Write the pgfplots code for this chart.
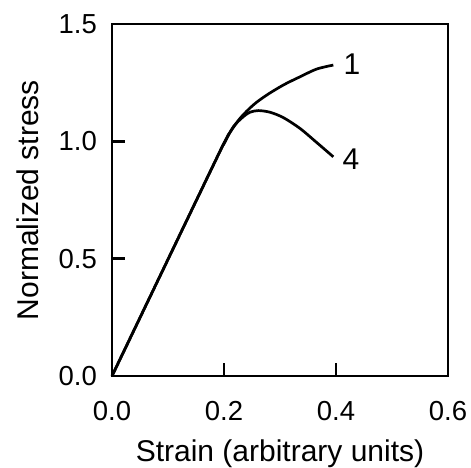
\documentclass[border=0pt]{standalone}
\usepackage{pgfplots}
\pgfplotsset{compat=1.18}
\usepackage{fontspec}
\setmainfont{Liberation Sans}
\pgfkeys{/pgf/number format/.cd, fixed, fixed zerofill, precision=1, assume math mode=true}
\begin{document}
\begin{tikzpicture}
\begin{axis}[
  name=ax,
  scale only axis,
  width=336pt, height=352pt,
  xmin=0, xmax=0.6, ymin=0, ymax=1.5,
  axis line style={line width=2.3pt},
  xtick={0,0.2,0.4,0.6}, ytick={0,0.5,1.0,1.5},
  tick pos=left,
  tick align=inside,
  tickwidth=13pt,
  tick style={draw=black, line width=2.3pt},
  ticklabel style={font=\fontsize{27.5}{32}\selectfont},
  xticklabel style={anchor=base, inner sep=0pt, yshift=-44pt},
  yticklabel style={anchor=east, inner sep=0pt, xshift=-15pt},
  label style={font=\fontsize{30}{36}\selectfont},
  xlabel={Strain (arbitrary units)},
  ylabel={Normalized stress},
  xlabel style={at={(axis description cs:0.5,-0.2415)}, anchor=base, inner sep=0pt},
  ylabel style={at={(axis description cs:-0.2173,0.5)}, anchor=base, inner sep=0pt},
  clip=false,
]
\addplot[line width=2.7pt, smooth, tension=0.5] coordinates {
  (0,0) (0.181,0.899) (0.2,0.99) (0.2077,1.027) (0.2286,1.098) (0.2524,1.155)
  (0.2762,1.197) (0.3060,1.240) (0.3357,1.275) (0.3655,1.308) (0.3952,1.325)
};
\addplot[line width=2.7pt, smooth, tension=0.5] coordinates {
  (0,0) (0.181,0.899) (0.2,0.99) (0.2167,1.062) (0.2345,1.105) (0.2464,1.124)
  (0.2613,1.131) (0.2821,1.124) (0.3060,1.101) (0.3357,1.055) (0.3655,0.995) (0.3952,0.934)
};
\draw[line width=2.5pt, black] (axis cs:0.2,0) -- ++(0pt,13pt);
\draw[line width=2.5pt, black] (axis cs:0.4,0) -- ++(0pt,13pt);
\draw[line width=2.5pt, black] (axis cs:0,0.5) -- ++(13pt,0pt);
\draw[line width=2.5pt, black] (axis cs:0,1.0) -- ++(13pt,0pt);
\node[anchor=base, inner sep=0pt, font=\fontsize{30}{34}\selectfont] at (axis cs:0.4286,1.2827) {1};
\node[anchor=base, inner sep=0pt, font=\fontsize{30}{34}\selectfont] at (axis cs:0.4268,0.878) {4};
\end{axis}
\pgfresetboundingbox
\path[use as bounding box] ([xshift=-112pt,yshift=-92pt]ax.south west) rectangle ([xshift=23pt,yshift=24pt]ax.north east);
\end{tikzpicture}
\end{document}
